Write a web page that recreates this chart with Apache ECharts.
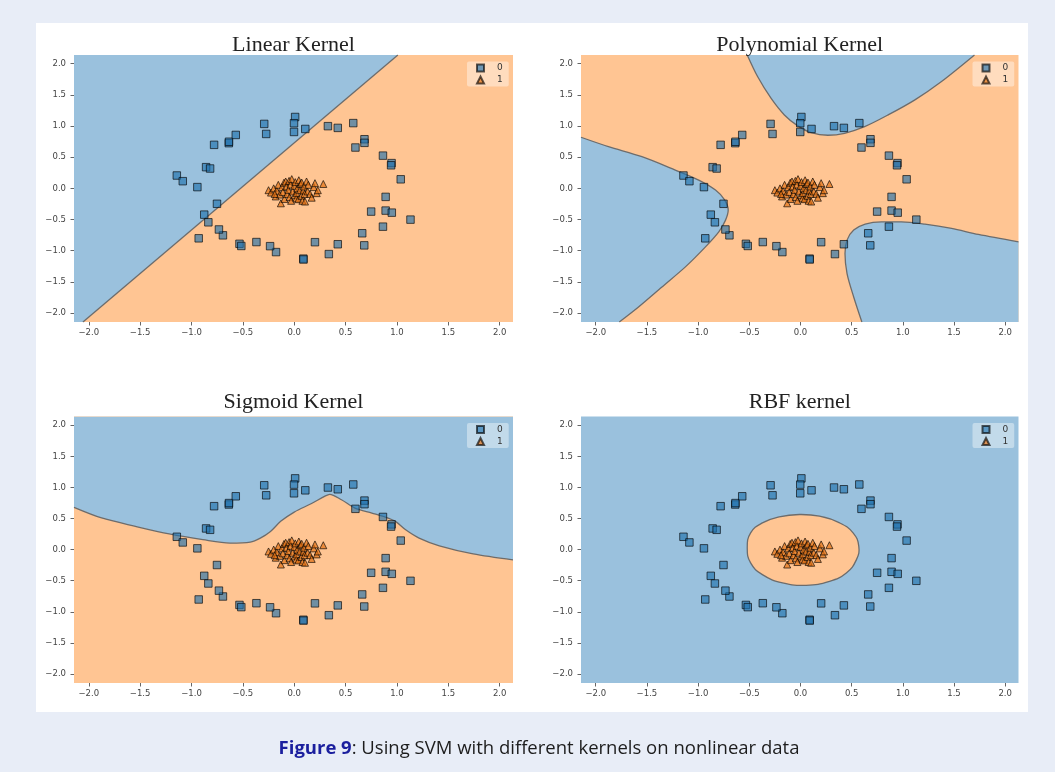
<!DOCTYPE html>
<html>
<head>
<meta charset="utf-8">
<title>SVM kernels</title>
<script src="https://cdn.jsdelivr.net/npm/echarts@6/dist/echarts.min.js"></script>
<style>
html, body {
  margin: 0;
  padding: 0;
  width: 1055px;
  height: 772px;
  background: #e8edf7;
  overflow: hidden;
}

.panel {
  position: absolute;
  left: 36px;
  top: 23px;
  width: 992px;
  height: 689px;
  background: #fff;
}

#chart {
  position: absolute;
  left: 0;
  top: 0;
  width: 1055px;
  height: 772px;
}

.caption {
  position: absolute;
  left: 0;
  top: 734px;
  width: 1078px;
  text-align: center;
  font: 18.5px 'Open Sans', sans-serif;
  color: #1d1d1d;
}

.caption b {
  color: #1b1f9e;
}
</style>
</head>
<body>
<div class="panel"></div>
<div id="chart"></div>
<div class="caption"><b>Figure 9</b>: Using SVM with different kernels on nonlinear data</div>

<script>
const xMin = -2.144
const xMax = 2.13
const yMin = -2.145
const yMax = 2.14

const ticks = [-2, -1.5, -1, -0.5, 0, 0.5, 1, 1.5, 2]
const titles = ['Linear Kernel', 'Polynomial Kernel', 'Sigmoid Kernel', 'RBF kernel']
const legendNames = ['0', '1']

// class 0: outer ring (squares)
const class0X = [-1.143, -1.085, -0.943, -0.858, -0.819, -0.78, -0.637, -0.635, -0.569, -0.292,
  -0.273, 0.009, -0.002, -0.002, 0.108, 0.328, 0.424, 0.575, 0.596, 0.684,
  0.684, 0.864, 0.948, 0.943, 1.037, 0.89, 0.749, 0.89, 0.95, 1.132,
  0.864, 0.662, 0.682, 0.424, 0.337, 0.202, 0.089, 0.09, -0.177, -0.235,
  -0.368, -0.533, -0.515, -0.694, -0.733, -0.836, -0.876, -0.93, -0.752]
const class0Y = [0.206, 0.115, 0.02, 0.34, 0.318, 0.698, 0.725, 0.748, 0.857, 1.034,
  0.873, 1.145, 1.045, 0.905, 0.953, 0.998, 0.97, 1.047, 0.655, 0.788,
  0.73, 0.525, 0.405, 0.37, 0.145, -0.137, -0.373, -0.357, -0.39, -0.502,
  -0.615, -0.721, -0.915, -0.897, -1.055, -0.864, -1.128, -1.142, -1.023, -0.928,
  -0.862, -0.89, -0.925, -0.754, -0.66, -0.545, -0.422, -0.802, -0.248]

// class 1: inner cluster (triangles)
const class1X = [-0.25, -0.226, -0.2, -0.18, -0.17, -0.155, -0.14, -0.13, -0.12, -0.11,
  -0.1, -0.095, -0.083, -0.075, -0.07, -0.057, -0.05, -0.045, -0.035, -0.03,
  -0.024, -0.015, 0.0, 0.005, 0.01, 0.02, 0.024, 0.03, 0.04, 0.045,
  0.055, 0.06, 0.07, 0.073, 0.08, 0.089, 0.095, 0.1, 0.105, 0.12,
  0.13, 0.137, 0.154, 0.17, 0.19, 0.202, 0.219, 0.23, 0.283, -0.19]
const class1Y = [-0.03, -0.068, 0.0, -0.13, -0.04, 0.056, -0.1, -0.24, 0.02, -0.06,
  0.09, -0.17, 0.11, 0.03, -0.09, -0.024, 0.12, -0.14, 0.06, -0.2,
  0.148, -0.05, 0.04, -0.11, 0.1, -0.16, -0.077, 0.0, -0.174, 0.13,
  -0.03, 0.07, -0.12, 0.093, -0.2, -0.035, 0.03, -0.09, -0.212, 0.11,
  -0.05, 0.056, -0.089, -0.15, 0.02, 0.083, -0.077, -0.03, 0.07, -0.09]

// decision boundaries
const linearEdge = [[-2.057, yMin], [1.009, yMax]]
const polyTopEdge = [[-0.52, yMax], [-0.419, 1.794], [-0.288, 1.447], [-0.157, 1.178], [-0.026, 1.002],
  [0.104, 0.894], [0.268, 0.852], [0.431, 0.884], [0.627, 0.99], [0.856, 1.178],
  [1.118, 1.42], [1.378, 1.714], [1.7, yMax]]
const polyLeftEdge = [[xMin, 0.82], [-1.876, 0.669], [-1.549, 0.508], [-1.223, 0.294], [-0.994, 0.133],
  [-0.83, -0.027], [-0.739, -0.188], [-0.706, -0.349], [-0.732, -0.51], [-0.798, -0.698],
  [-0.928, -0.939], [-1.124, -1.26], [-1.353, -1.582], [-1.582, -1.904], [-1.77, yMin]]
const polyRightEdge = [[0.6, yMin], [0.52, -1.743], [0.455, -1.367], [0.435, -1.045], [0.455, -0.831],
  [0.52, -0.67], [0.632, -0.574], [0.79, -0.537], [0.986, -0.537], [1.216, -0.574],
  [1.476, -0.643], [1.738, -0.74], [xMax, -0.858]]
const sigmoidEdge = [[xMin, 0.68], [-1.875, 0.509], [-1.546, 0.374], [-1.217, 0.251], [-0.889, 0.159],
  [-0.625, 0.105], [-0.428, 0.121], [-0.33, 0.185], [-0.231, 0.292], [-0.132, 0.454],
  [0.0, 0.603], [0.164, 0.737], [0.295, 0.855], [0.345, 0.889], [0.46, 0.802],
  [0.591, 0.668], [0.756, 0.588], [0.887, 0.523], [0.986, 0.453], [1.085, 0.319],
  [1.216, 0.185], [1.413, 0.061], [1.742, -0.068], [xMax, -0.164]]
const rbfEdge = [[-0.52, 0.027], [-0.487, 0.269], [-0.372, 0.43], [-0.208, 0.526], [-0.011, 0.564],
  [0.186, 0.537], [0.382, 0.43], [0.514, 0.269], [0.57, 0.053], [0.547, -0.161],
  [0.448, -0.375], [0.284, -0.51], [0.055, -0.574], [-0.175, -0.536], [-0.372, -0.403],
  [-0.487, -0.214]]

const BLUE_REGION = '#9ac1dd'
const ORANGE_REGION = '#ffc593'
const EDGE_COLOR = '#6c6c6c'

const layout = [
  { left: 74, top: 55, width: 439, height: 267, titleTop: 34 },
  { left: 581, top: 55, width: 437.5, height: 267, titleTop: 34 },
  { left: 74, top: 416.5, width: 439, height: 266.5, titleTop: 391 },
  { left: 581, top: 416.5, width: 437.5, height: 266.5, titleTop: 391 },
]

const panels = [
  {
    bg: ORANGE_REGION,
    fill: BLUE_REGION,
    regions: [[[xMin, yMin], ...linearEdge, [xMin, yMax]]],
    edges: [linearEdge],
  },
  {
    bg: ORANGE_REGION,
    fill: BLUE_REGION,
    regions: [polyTopEdge, [...polyLeftEdge, [xMin, yMin]], [...polyRightEdge, [xMax, yMin]]],
    edges: [polyTopEdge, polyLeftEdge, polyRightEdge],
  },
  {
    bg: ORANGE_REGION,
    fill: BLUE_REGION,
    regions: [[...sigmoidEdge, [xMax, yMax], [xMin, yMax]]],
    edges: [sigmoidEdge],
  },
  {
    bg: BLUE_REGION,
    fill: ORANGE_REGION,
    regions: [rbfEdge],
    edges: [],
    closedEdge: true,
  },
]

const class0 = class0X.map((x, i) => [x, class0Y[i]])
const class1 = class1X.map((x, i) => [x, class1Y[i]])

const tickLabel = (v) => v.toFixed(1).replace('-', '\u2212')

function regionSeries(idx, points, panel) {
  return {
    type: 'custom',
    xAxisIndex: idx,
    yAxisIndex: idx,
    silent: true,
    clip: true,
    z: 1,
    data: points,
    renderItem(params, api) {
      if (params.dataIndex !== 0) return null
      return {
        type: 'polygon',
        shape: {
          points: points.map((p) => api.coord(p)),
          smooth: panel.closedEdge ? 0.45 : 0,
        },
        style: {
          fill: panel.fill,
          stroke: panel.closedEdge ? EDGE_COLOR : null,
          lineWidth: 1.3,
        },
      }
    },
  }
}

function edgeSeries(idx, points) {
  return {
    type: 'line',
    xAxisIndex: idx,
    yAxisIndex: idx,
    data: points,
    smooth: 0.3,
    symbol: 'none',
    silent: true,
    z: 2,
    lineStyle: { color: EDGE_COLOR, width: 1.3 },
  }
}

function scatterSeries(idx, name, data, symbol, size, color) {
  return {
    type: 'scatter',
    name,
    xAxisIndex: idx,
    yAxisIndex: idx,
    data,
    symbol,
    symbolSize: size,
    z: 3,
    itemStyle: {
      color,
      borderColor: 'rgba(0, 0, 0, 0.8)',
      borderWidth: 1,
    },
  }
}

function axis(idx, orient) {
  const isX = orient === 'x'
  return {
    gridIndex: idx,
    type: 'value',
    position: isX ? 'bottom' : 'left',
    min: isX ? xMin : yMin,
    max: isX ? xMax : yMax,
    axisLine: { show: false, onZero: false },
    splitLine: { show: false },
    axisTick: {
      show: true,
      customValues: ticks,
      length: 3.5,
      lineStyle: { color: '#555', width: 0.9 },
    },
    axisLabel: {
      customValues: ticks,
      formatter: tickLabel,
      fontFamily: 'DejaVu Sans',
      fontSize: 8.5,
      color: '#444',
      margin: isX ? 6 : 8,
    },
  }
}

const series = []
panels.forEach((panel, i) => {
  panel.regions.forEach((r) => series.push(regionSeries(i, r, panel)))
  panel.edges.forEach((e) => series.push(edgeSeries(i, e)))
  series.push(scatterSeries(i, '0', class0, 'rect', 7.5, 'rgba(31, 112, 172, 0.8)'))
  series.push(scatterSeries(i, '1', class1, 'triangle', 7, 'rgba(226, 112, 18, 0.85)'))
})

const chart = echarts.init(document.getElementById('chart'), null, { renderer: 'canvas' })

chart.setOption({
  animation: false,
  title: layout.map((g, i) => ({
    text: titles[i],
    left: g.left + g.width / 2,
    top: g.titleTop,
    textAlign: 'center',
    padding: 0,
    textStyle: {
      fontFamily: 'Liberation Serif',
      fontSize: 22,
      fontWeight: 'normal',
      color: '#222',
    },
  })),
  legend: layout.map((g) => ({
    data: legendNames,
    orient: 'vertical',
    left: g.left + g.width - 46,
    top: g.top + 6.5,
    itemWidth: 7,
    itemHeight: 7,
    itemGap: 3,
    padding: [2, 6, 2, 9],
    backgroundColor: 'rgba(255, 255, 255, 0.4)',
    borderRadius: 2,
    selectedMode: false,
    textStyle: {
      fontFamily: 'DejaVu Sans',
      fontSize: 9,
      color: '#333',
      padding: [0, 0, 0, 8],
    },
  })),
  grid: layout.map((g, i) => ({
    left: g.left,
    top: g.top,
    width: g.width,
    height: g.height,
    show: true,
    backgroundColor: panels[i].bg,
    borderWidth: 0,
  })),
  xAxis: layout.map((g, i) => axis(i, 'x')),
  yAxis: layout.map((g, i) => axis(i, 'y')),
  series,
})
</script>
</body>
</html>
